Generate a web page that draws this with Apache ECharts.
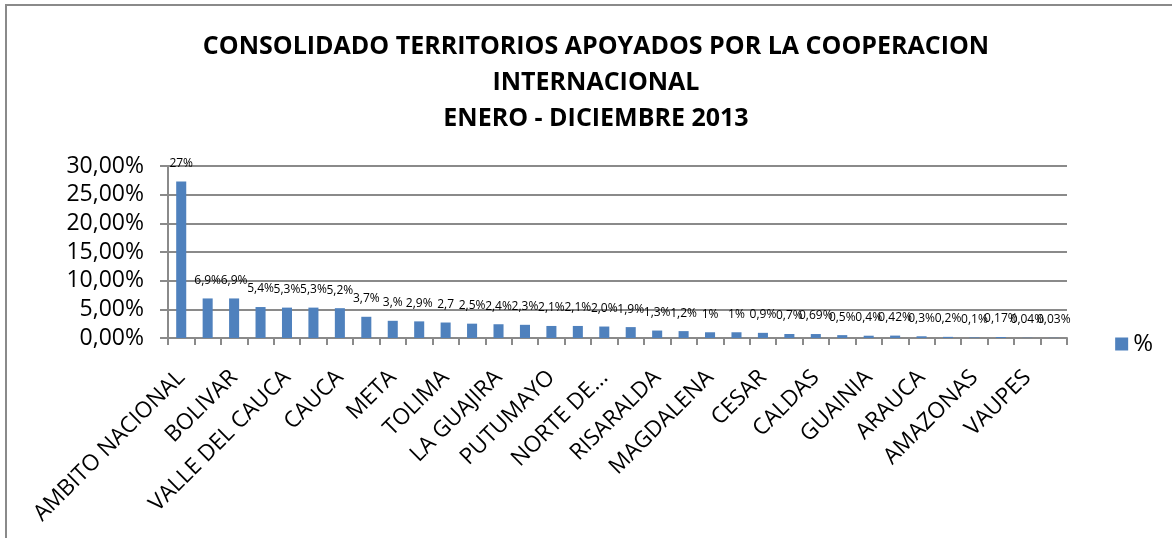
<!DOCTYPE html>
<html>
<head>
<meta charset="utf-8">
<script src="https://cdn.jsdelivr.net/npm/echarts@6/dist/echarts.min.js"></script>
<style>
  html, body { margin: 0; padding: 0; background: #fff; }
  #chart { width: 1172px; height: 538px; }
</style>
</head>
<body>
<div id="chart"></div>
<script>
// territorios, en el orden del grafico
const territorios = [
  'AMBITO NACIONAL', 'ANTIOQUIA', 'BOLIVAR', 'NARIÑO', 'VALLE DEL CAUCA', 'CHOCO',
  'CAUCA', 'CORDOBA', 'META', 'CAQUETA', 'TOLIMA', 'SUCRE', 'LA GUAJIRA', 'HUILA',
  'PUTUMAYO', 'CUNDINAMARCA', 'NORTE DE SANTANDER', 'SANTANDER', 'RISARALDA', 'BOYACA',
  'MAGDALENA', 'ATLANTICO', 'CESAR', 'QUINDIO', 'CALDAS', 'GUAVIARE', 'GUAINIA',
  'CASANARE', 'ARAUCA', 'VICHADA', 'AMAZONAS', 'SAN ANDRES', 'VAUPES', 'BOGOTA'
]
// porcentaje (fraccion)
const porcentajes = [
  0.273, 0.069, 0.069, 0.054, 0.053, 0.053, 0.052, 0.037, 0.030, 0.029, 0.027,
  0.025, 0.024, 0.023, 0.021, 0.021, 0.020, 0.019, 0.013, 0.012, 0.010, 0.010,
  0.009, 0.007, 0.0069, 0.005, 0.004, 0.0042, 0.003, 0.002, 0.001, 0.0017,
  0.0004, 0.0003
]
// etiquetas tal como aparecen
const etiquetas = [
  '27%', '6,9%', '6,9%', '5,4%', '5,3%', '5,3%', '5,2%', '3,7%', '3,%', '2,9%', '2,7',
  '2,5%', '2,4%', '2,3%', '2,1%', '2,1%', '2,0%', '1,9%', '1,3%', '1,2%', '1%', '1%',
  '0,9%', '0,7%', '0,69%', '0,5%', '0,4%', '0,42%', '0,3%', '0,2%', '0,1%', '0,17%',
  '0,04%', '0,03%'
]
const titulo = 'CONSOLIDADO TERRITORIOS APOYADOS POR LA COOPERACION\nINTERNACIONAL\nENERO - DICIEMBRE 2013'

const font = '"Open Sans", "Liberation Sans", sans-serif'
const gris = '#8a8a8a'

var myChart = echarts.init(document.getElementById('chart'))
var option = {
  backgroundColor: '#fff',
  animation: false,
  title: {
    text: titulo,
    left: 591,
    textAlign: 'center',
    top: 24,
    textStyle: {
      fontFamily: font,
      fontWeight: 'bold',
      fontSize: 25,
      lineHeight: 36,
      color: '#000'
    }
  },
  legend: {
    right: 14,
    top: 327,
    itemWidth: 13,
    itemHeight: 13,
    itemGap: 10,
    icon: 'rect',
    textStyle: { fontFamily: font, fontSize: 24, color: '#000' },
    data: ['%']
  },
  grid: { left: 168, right: 105, top: 166, bottom: 200 },
  xAxis: {
    type: 'category',
    data: territorios,
    axisLine: { lineStyle: { color: gris, width: 2 } },
    axisTick: { show: true, interval: 0, length: 7, lineStyle: { color: gris, width: 2 } },
    axisLabel: {
      interval: 1,
      rotate: 45,
      margin: 36,
      fontFamily: font,
      fontSize: 22.5,
      color: '#000',
      formatter: function (v) {
        return v.length > 16 ? v.slice(0, 8) + '...' : v
      }
    }
  },
  yAxis: {
    type: 'value',
    min: 0,
    max: 0.3,
    interval: 0.05,
    axisLine: { show: true, lineStyle: { color: gris, width: 2 } },
    axisTick: { show: true, length: 8, lineStyle: { color: gris, width: 2 } },
    splitLine: { lineStyle: { color: gris, width: 2 } },
    axisLabel: {
      margin: 24,
      fontFamily: font,
      fontSize: 23,
      color: '#000',
      formatter: function (v) {
        return (v * 100).toFixed(2).replace('.', ',') + '%'
      }
    }
  },
  series: [
    {
      name: '%',
      type: 'bar',
      data: porcentajes,
      barWidth: '38%',
      itemStyle: { color: '#4f81bd' },
      label: {
        show: true,
        position: 'top',
        distance: 12,
        fontFamily: font,
        fontSize: 12,
        color: '#000',
        formatter: function (p) { return etiquetas[p.dataIndex] }
      }
    }
  ],
  graphic: [
    { type: 'line', shape: { x1: 5, y1: 5, x2: 1172, y2: 5 }, style: { stroke: gris, lineWidth: 2 } },
    { type: 'line', shape: { x1: 6, y1: 5, x2: 6, y2: 538 }, style: { stroke: gris, lineWidth: 2 } }
  ]
}
myChart.setOption(option, true)
</script>
</body>
</html>
